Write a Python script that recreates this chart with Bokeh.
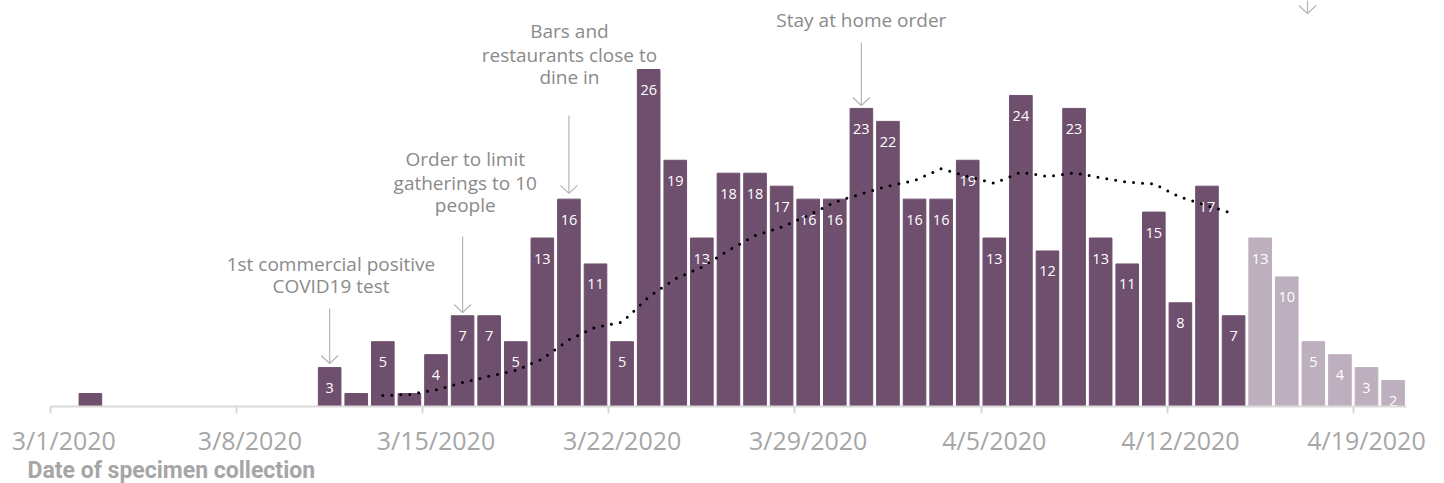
import pandas as pd
from bokeh.plotting import figure
from bokeh.layouts import column
from bokeh.models import ColumnDataSource, FixedTicker
from bokeh.core.properties import value
from bokeh.embed import file_html
from bokeh.resources import INLINE

# ---------------- data ----------------
dates = ["2020-03-02"] + [d.strftime("%Y-%m-%d") for d in pd.date_range("2020-03-11", "2020-04-20")]
cases = [1,
         3, 1, 5, 1, 4, 7, 7, 5, 13, 16,
         11, 5, 26, 19, 13, 18, 18, 17, 16, 16,
         23, 22, 16, 16, 19, 13, 24, 12, 23, 13,
         11, 15, 8, 17, 7,
         13, 10, 5, 4, 3, 2]
pending_from = "2020-04-15"

ma_dates = [d.strftime("%Y-%m-%d") for d in pd.date_range("2020-03-13", "2020-04-14")]
ma_values = [0.85, 0.93, 1.28, 1.85, 2.34, 2.78, 3.68, 5.15, 6.12, 6.5,
             8.45, 9.85, 10.75, 12.04, 13.19, 13.84, 14.74, 15.77, 16.41, 17.0,
             17.44, 18.34, 17.75, 17.23, 18.08, 17.75, 18.03, 17.65, 17.31, 17.18,
             16.15, 15.51, 14.87]

tick_dates = ["2020-03-01", "2020-03-08", "2020-03-15", "2020-03-22",
              "2020-03-29", "2020-04-05", "2020-04-12", "2020-04-19"]
tick_labels = ["3/1/2020", "3/8/2020", "3/15/2020", "3/22/2020",
               "3/29/2020", "4/5/2020", "4/12/2020", "4/19/2020"]
axis_title = "Date of specimen collection"

event_dates = ["2020-03-11", "2020-03-16", "2020-03-20", "2020-03-31"]
event_texts = [["1st commercial positive", "COVID19 test"],
               ["Order to limit", "gatherings to 10", "people"],
               ["Bars and", "restaurants close to", "dine in"],
               ["Stay at home order"]]

# ---------------- layout constants ----------------
W, H = 1444, 483
FRAME_H = 406
AXIS_H = 53
H_MAIN = FRAME_H + AXIS_H
H_TITLE = H - H_MAIN
PX_DAY = 26.586
PX_CASE = 12.96
X0 = -50 / PX_DAY
X1 = X0 + W / PX_DAY
Y1 = FRAME_H / PX_CASE

DARK = "#6e4f6d"
LIGHT = "#beafbe"
GRAY_TXT = "#8a8a8a"
ARROW = "#b5b5b5"
AXIS = "#d9d9d9"

origin = pd.Timestamp("2020-03-01")


def dx(d):
    return (pd.Timestamp(d) - origin).days + 0.5


xs = [dx(d) for d in dates]
colors = [LIGHT if pd.Timestamp(d) >= pd.Timestamp(pending_from) else DARK for d in dates]
src = ColumnDataSource(dict(x=xs, top=cases, color=colors))

lab_x = [x for x, c in zip(xs, cases) if c >= 2]
lab_y = [c for c in cases if c >= 2]
lab_src = ColumnDataSource(dict(x=lab_x, y=lab_y, t=[str(c) for c in lab_y]))

p = figure(width=W, height=H_MAIN, x_range=(X0, X1), y_range=(0, Y1),
           output_backend="svg", toolbar_location=None, y_axis_location=None,
           min_border_left=0, min_border_right=0, min_border_top=0,
           min_border_bottom=AXIS_H)
p.outline_line_color = None
p.xgrid.visible = False
p.ygrid.visible = False
p.background_fill_color = "white"

p.vbar(x="x", top="top", width=0.85, color="color", source=src)
p.text(x="x", y="y", text="t", source=lab_src, text_align="center", text_baseline="middle",
       text_color="white", text_font=value("Open Sans"), text_font_size="14.5px", y_offset=20.5)

p.line([dx(d) for d in ma_dates], ma_values, line_color="black", line_width=3,
       line_dash="0 9", line_cap="round")

# annotations: arrows and texts
arrow_top = [7.56, 13.12, 22.45, 28.09]
arrow_tip = [3.32, 7.25, 16.44, 23.23]
text_y = [[10.96, 9.26], [19.06, 17.28, 15.51], [28.94, 27.16, 25.39], [29.86]]
text_dx = [0.05, 0.1, 0.02, 0.0]

ax = [dx(d) for d in event_dates] + [dx("2020-04-17") - 0.22]
at = arrow_top + [Y1 + 2]
ap = arrow_tip + [(FRAME_H - 13) / PX_CASE]
p.segment(x0=ax, y0=at, x1=ax, y1=ap, line_color=ARROW, line_width=1.2)
hw = 8.5 / PX_DAY
hh = 8 / PX_CASE
p.multi_line(xs=[[x - hw, x, x + hw] for x in ax], ys=[[y + hh, y, y + hh] for y in ap],
             line_color=ARROW, line_width=1.2)

tx, ty, tt = [], [], []
for d, lines, ys, off in zip(event_dates, event_texts, text_y, text_dx):
    for line, y in zip(lines, ys):
        tx.append(dx(d) + off)
        ty.append(y)
        tt.append(line)
p.text(x=tx, y=ty, text=tt, text_align="center", text_baseline="middle",
       text_color=GRAY_TXT, text_font=value("Open Sans"), text_font_size="19px")

# x axis
major = [dx(d) for d in tick_dates]
minor = [m - 0.5 for m in major]
p.xaxis.ticker = FixedTicker(ticks=major, minor_ticks=minor)
p.xaxis.major_label_overrides = {m: l for m, l in zip(major, tick_labels)}
p.xaxis.bounds = (0, 51)
p.xaxis.axis_line_color = AXIS
p.xaxis.axis_line_width = 2
p.xaxis.major_tick_line_color = None
p.xaxis.major_tick_out = 0
p.xaxis.major_tick_in = 0
p.xaxis.minor_tick_line_color = AXIS
p.xaxis.minor_tick_line_width = 2
p.xaxis.minor_tick_out = 7
p.xaxis.minor_tick_in = 0
p.xaxis.major_label_standoff = 9
p.xaxis.major_label_text_font = "Open Sans"
p.xaxis.major_label_text_font_size = "25px"
p.xaxis.major_label_text_color = "#a6a6a6"

# axis title strip
p2 = figure(width=W, height=H_TITLE, x_range=(0, W), y_range=(0, H_TITLE),
            output_backend="svg", toolbar_location=None,
            x_axis_location=None, y_axis_location=None,
            min_border=0)
p2.outline_line_color = None
p2.xgrid.visible = False
p2.ygrid.visible = False
p2.text(x=[27], y=[13], text=[axis_title], text_align="left", text_baseline="middle",
        text_color="#a6a6a6", text_font=value("Roboto"),
        text_font_style="bold", text_font_size="23px")

layout = column(p, p2, spacing=0)
open("out.html", "w").write(file_html(layout, INLINE))
